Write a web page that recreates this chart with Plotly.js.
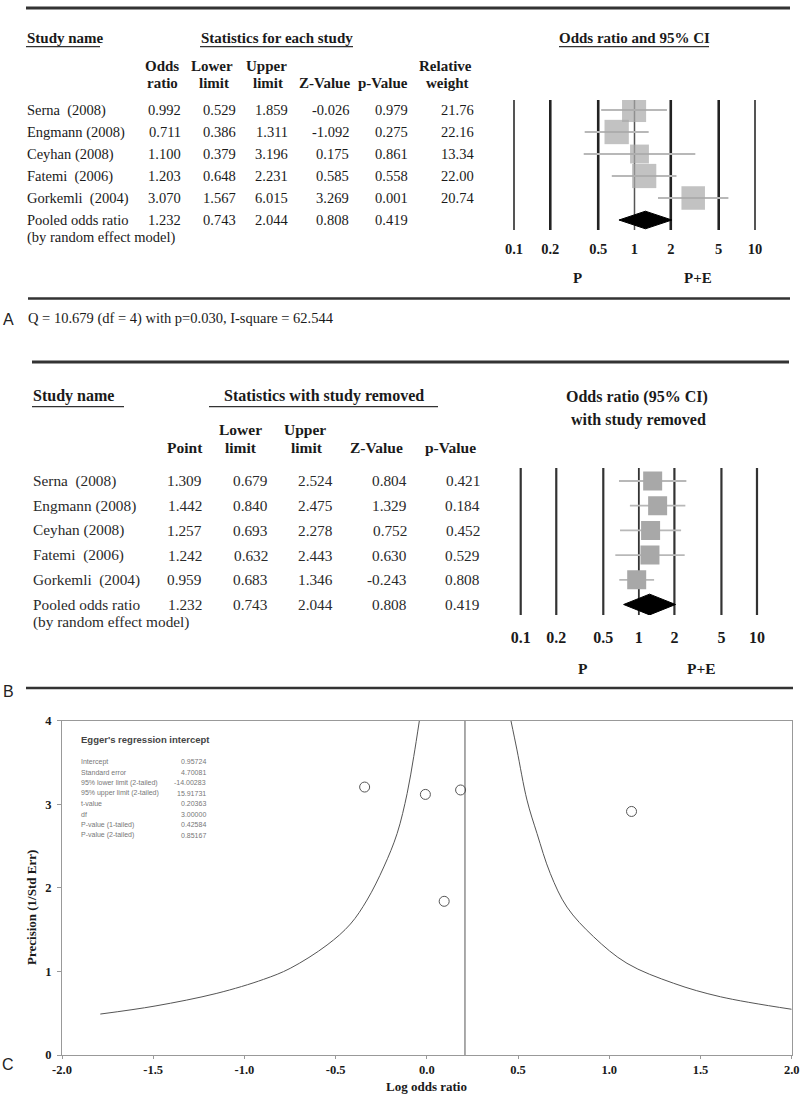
<!DOCTYPE html>
<html>
<head>
<meta charset="utf-8">
<script src="https://cdn.plot.ly/plotly-3.0.1.min.js"></script>
<style>html,body{margin:0;padding:0;background:#fff;}#chart{width:800px;height:1096px;}</style>
</head>
<body>
<div id="chart"></div>
<script>
// ---------- DATA ----------
const studyNames = ['Serna\u00a0\u00a0(2008)', 'Engmann (2008)', 'Ceyhan (2008)', 'Fatemi\u00a0\u00a0(2006)', 'Gorkemli\u00a0\u00a0(2004)'];
const pooledLabel1 = 'Pooled odds ratio';
const pooledLabel2 = '(by random effect model)';

// Panel A: statistics for each study
const orA    = [0.992, 0.711, 1.100, 1.203, 3.070];
const lowA   = [0.529, 0.386, 0.379, 0.648, 1.567];
const upA    = [1.859, 1.311, 3.196, 2.231, 6.015];
const zA     = [-0.026, -1.092, 0.175, 0.585, 3.269];
const pA     = [0.979, 0.275, 0.861, 0.558, 0.001];
const weightA = [21.76, 22.16, 13.34, 22.00, 20.74];
const pooledA = {or: 1.232, low: 0.743, up: 2.044, z: 0.808, p: 0.419};
const heterogeneityText = 'Q = 10.679 (df = 4) with p=0.030, I-square = 62.544';

// Panel B: statistics with study removed
const ptB  = [1.309, 1.442, 1.257, 1.242, 0.959];
const lowB = [0.679, 0.840, 0.693, 0.632, 0.683];
const upB  = [2.524, 2.475, 2.278, 2.443, 1.346];
const zB   = [0.804, 1.329, 0.752, 0.630, -0.243];
const pB   = [0.421, 0.184, 0.452, 0.529, 0.808];
const pooledB = {or: 1.232, low: 0.743, up: 2.044, z: 0.808, p: 0.419};

// Forest axis ticks
const forestTicks = [0.1, 0.2, 0.5, 1, 2, 5, 10];
const forestTickText = ['0.1', '0.2', '0.5', '1', '2', '5', '10'];

// Panel C: funnel plot
const studyLogOR = [-0.008, -0.341, 0.095, 0.185, 1.122];
const studyPrecision = [3.118, 3.206, 1.839, 3.171, 2.914];
const pooledLogOR = 0.209;
const funnelLeftX  = [-1.79, -1.49, -1.151, -0.895, -0.749, -0.547, -0.419, -0.328, -0.236, -0.163, -0.108, -0.072, -0.041];
const funnelLeftY  = [0.49, 0.586, 0.738, 0.905, 1.037, 1.316, 1.567, 1.854, 2.25, 2.65, 3.13, 3.57, 4.0];
const funnelRightX = [0.461, 0.494, 0.549, 0.604, 0.677, 0.768, 0.914, 1.097, 1.353, 1.609, 2.0];
const funnelRightY = [4.0, 3.65, 3.05, 2.65, 2.17, 1.77, 1.415, 1.097, 0.858, 0.697, 0.547];
const funnelXTicks = [-2.0, -1.5, -1.0, -0.5, 0.0, 0.5, 1.0, 1.5, 2.0];
const funnelXTickText = ['-2.0', '-1.5', '-1.0', '-0.5', '0.0', '0.5', '1.0', '1.5', '2.0'];
const funnelYTicks = [0, 1, 2, 3, 4];

const eggerLabels = ['Intercept', 'Standard error', '95% lower limit (2-tailed)', '95% upper limit (2-tailed)', 't-value', 'df', 'P-value (1-tailed)', 'P-value (2-tailed)'];
const eggerValues = ['0.95724', '4.70081', '-14.00283', '15.91731', '0.20363', '3.00000', '0.42584', '0.85167'];

// ---------- HELPERS ----------
const W = 800, H = 1096;
const PX = v => v / W, PY = v => 1 - v / H;
const SERIF = 'Liberation Serif, Times New Roman, serif';
const SANS = 'Liberation Sans, Arial, sans-serif';
const ann = [];
function T(text, x, y, o) {
  o = o || {};
  ann.push({
    xref: 'paper', yref: 'paper', x: PX(x), y: PY(y), text: text, showarrow: false,
    xanchor: o.anchor || 'left', yanchor: 'middle', borderpad: 0,
    font: {family: o.family || SERIF, size: o.size || 14.5, color: o.color || '#1a1a1a'},
    textangle: o.angle || 0
  });
}
const shapes = [];
function rule(x0, x1, y, w, c) {
  shapes.push({type: 'line', xref: 'paper', yref: 'paper', x0: PX(x0), x1: PX(x1), y0: PY(y), y1: PY(y),
    line: {color: c || '#333', width: w || 2.5}});
}
const rowIdx = n => Array.from({length: n}, (_, i) => i);
const f3 = v => v.toFixed(3);

// ---------- PANEL A TABLE ----------
const HA = 15;
rule(26, 790, 8, 2.8);
T('<b>Study name</b>', 26, 38, {size: HA});
rule(26, 100, 46.7, 1.3);
T('<b>Statistics for each study</b>', 277, 38, {anchor: 'center', size: HA});
rule(200, 353, 46.7, 1.3);
T('<b>Odds ratio and 95% CI</b>', 634, 38, {anchor: 'center', size: HA});
rule(559, 709, 46.7, 1.3);
T('<b>Odds</b>', 162, 66, {anchor: 'center', size: HA});
T('<b>ratio</b>', 162, 83, {anchor: 'center', size: HA});
T('<b>Lower</b>', 212, 66, {anchor: 'center', size: HA});
T('<b>limit</b>', 214, 83, {anchor: 'center', size: HA});
T('<b>Upper</b>', 266, 66, {anchor: 'center', size: HA});
T('<b>limit</b>', 268, 83, {anchor: 'center', size: HA});
T('<b>Z-Value</b>', 324, 83, {anchor: 'center', size: HA});
T('<b>p-Value</b>', 383, 83, {anchor: 'center', size: HA});
T('<b>Relative</b>', 445, 66, {anchor: 'center', size: HA});
T('<b>weight</b>', 447, 83, {anchor: 'center', size: HA});
const rowYA = i => 110 + 22 * i;
studyNames.forEach((n, i) => {
  const y = rowYA(i);
  T(n, 26, y);
  T(f3(orA[i]), 182, y, {anchor: 'right'});
  T(f3(lowA[i]), 237, y, {anchor: 'right'});
  T(f3(upA[i]), 289, y, {anchor: 'right'});
  T(f3(zA[i]), 350, y, {anchor: 'right'});
  T(f3(pA[i]), 409, y, {anchor: 'right'});
  T(weightA[i].toFixed(2), 475, y, {anchor: 'right'});
});
T(pooledLabel1, 26, rowYA(5));
T(pooledLabel2, 26, 237);
T(f3(pooledA.or), 182, rowYA(5), {anchor: 'right'});
T(f3(pooledA.low), 237, rowYA(5), {anchor: 'right'});
T(f3(pooledA.up), 289, rowYA(5), {anchor: 'right'});
T(f3(pooledA.z), 350, rowYA(5), {anchor: 'right'});
T(f3(pooledA.p), 409, rowYA(5), {anchor: 'right'});
T('<b>P</b>', 577, 278, {anchor: 'center', size: 15});
T('<b>P+E</b>', 698, 278, {anchor: 'center', size: 15});
rule(28, 790, 298.5, 2.5);
T('A', 8, 319, {family: SANS, size: 16, anchor: 'center', color: '#222'});
T(heterogeneityText, 27, 318, {size: 14.5});

// ---------- PANEL B TABLE ----------
const HB = 16, CB = '#2a2a2a', SB = 15.3;
rule(32, 789, 362, 2.8);
T('<b>Study name</b>', 32, 396, {size: HB});
rule(32, 124, 406.7, 1.3);
T('<b>Statistics with study removed</b>', 324, 396, {anchor: 'center', size: HB});
rule(209, 438, 406.7, 1.3);
T('<b>Odds ratio (95% CI)</b>', 637, 397, {anchor: 'center', size: HB});
T('<b>with study removed</b>', 638, 420, {anchor: 'center', size: HB});
T('<b>Lower</b>', 240, 429, {anchor: 'center', size: 15.5});
T('<b>limit</b>', 241, 448, {anchor: 'center', size: 15.5});
T('<b>Upper</b>', 305, 429, {anchor: 'center', size: 15.5});
T('<b>limit</b>', 307, 448, {anchor: 'center', size: 15.5});
T('<b>Point</b>', 185, 448, {anchor: 'center', size: 15.5});
T('<b>Z-Value</b>', 376, 448, {anchor: 'center', size: 15.5});
T('<b>p-Value</b>', 450, 448, {anchor: 'center', size: 15.5});
const rowYB = i => 481 + 24.7 * i;
studyNames.forEach((n, i) => {
  const y = rowYB(i);
  T(n, 32, y, {color: CB, size: SB});
  T(f3(ptB[i]), 203, y, {anchor: 'right', color: CB, size: SB});
  T(f3(lowB[i]), 269, y, {anchor: 'right', color: CB, size: SB});
  T(f3(upB[i]), 334, y, {anchor: 'right', color: CB, size: SB});
  T(f3(zB[i]), 408, y, {anchor: 'right', color: CB, size: SB});
  T(f3(pB[i]), 481, y, {anchor: 'right', color: CB, size: SB});
});
T(pooledLabel1, 32, rowYB(5), {color: CB, size: SB});
T(pooledLabel2, 32, 622, {color: CB, size: SB});
T(f3(pooledB.or), 203, rowYB(5), {anchor: 'right', color: CB, size: SB});
T(f3(pooledB.low), 269, rowYB(5), {anchor: 'right', color: CB, size: SB});
T(f3(pooledB.up), 334, rowYB(5), {anchor: 'right', color: CB, size: SB});
T(f3(pooledB.z), 408, rowYB(5), {anchor: 'right', color: CB, size: SB});
T(f3(pooledB.p), 481, rowYB(5), {anchor: 'right', color: CB, size: SB});
T('<b>P</b>', 583, 668, {anchor: 'center', size: 15.5});
T('<b>P+E</b>', 701, 668, {anchor: 'center', size: 15.5});
rule(26, 793, 688, 2.5);
T('B', 8, 691, {family: SANS, size: 16, anchor: 'center', color: '#222'});

// ---------- PANEL C TEXT ----------
T('C', 8, 1064, {family: SANS, size: 16, anchor: 'center', color: '#222'});
T('<b>Log odds ratio</b>', 427, 1086, {anchor: 'center', size: 13});
T('<b>Precision (1/Std Err)</b>', 31, 908, {anchor: 'center', size: 13, angle: -90});
T('<b>Egger\'s regression intercept</b>', 80, 739, {family: SANS, size: 9.5, color: '#444'});
eggerLabels.forEach((l, i) => {
  const y = 761.5 + 10.5 * i;
  T(l, 80, y, {family: SANS, size: 7, color: '#777'});
  T(eggerValues[i], 207, y, {family: SANS, size: 7, color: '#777', anchor: 'right'});
});

// ---------- FOREST LINES ----------
function forestLines(xref, styleFn) {
  forestTicks.forEach((v, i) => {
    const s = styleFn(i);
    shapes.push({type: 'line', xref: xref, yref: (xref === 'x' ? 'y' : 'y2') + ' domain', x0: v, x1: v, y0: 0, y1: 1,
      layer: 'below', line: {color: s.c, width: s.w}});
  });
}
forestLines('x', i => (i === 3 ? {c: '#555', w: 1.5} : (i === 0 || i === 6) ? {c: '#555', w: 2} : {c: '#222', w: 2.6}));
forestLines('x2', i => (i === 3 ? {c: '#333', w: 1.8} : {c: '#333', w: 2.2}));

// ---------- TRACES ----------
const traces = [];
const minus = (a, b) => a.map((v, i) => v - b[i]);
traces.push({
  type: 'scatter', mode: 'markers', xaxis: 'x', yaxis: 'y', x: orA, y: rowIdx(orA.length),
  marker: {symbol: 'square', size: weightA, sizemode: 'area', sizeref: 0.075, color: '#a8a8a8', line: {width: 0}},
  error_x: {type: 'data', symmetric: false, array: minus(upA, orA), arrayminus: minus(orA, lowA), color: '#b8b8b8', thickness: 1.8, width: 0},
  hoverinfo: 'skip'
});
const dA = 0.4, rA = 5;
traces.push({
  type: 'scatter', mode: 'lines', xaxis: 'x', yaxis: 'y', fill: 'toself', fillcolor: '#000',
  x: [pooledA.low, pooledA.or, pooledA.up, pooledA.or, pooledA.low],
  y: [rA, rA - dA, rA, rA + dA, rA], line: {color: '#000', width: 1}, hoverinfo: 'skip'
});
traces.push({
  type: 'scatter', mode: 'markers', xaxis: 'x2', yaxis: 'y2', x: ptB, y: rowIdx(ptB.length),
  marker: {symbol: 'square', size: 19, color: '#a8a8a8', line: {width: 0}},
  error_x: {type: 'data', symmetric: false, array: minus(upB, ptB), arrayminus: minus(ptB, lowB), color: '#b8b8b8', thickness: 1.8, width: 0},
  hoverinfo: 'skip'
});
const dB = 0.42, rB = 5;
traces.push({
  type: 'scatter', mode: 'lines', xaxis: 'x2', yaxis: 'y2', fill: 'toself', fillcolor: '#000',
  x: [pooledB.low, pooledB.or, pooledB.up, pooledB.or, pooledB.low],
  y: [rB, rB - dB, rB, rB + dB, rB], line: {color: '#000', width: 1}, hoverinfo: 'skip'
});
traces.push({type: 'scatter', mode: 'lines', xaxis: 'x3', yaxis: 'y3', x: funnelLeftX, y: funnelLeftY,
  line: {color: '#555', width: 1, shape: 'spline', smoothing: 1}, hoverinfo: 'skip'});
traces.push({type: 'scatter', mode: 'lines', xaxis: 'x3', yaxis: 'y3', x: funnelRightX, y: funnelRightY,
  line: {color: '#555', width: 1, shape: 'spline', smoothing: 1}, hoverinfo: 'skip'});
traces.push({type: 'scatter', mode: 'lines', xaxis: 'x3', yaxis: 'y3', x: [pooledLogOR, pooledLogOR], y: [funnelYTicks[0], funnelYTicks[funnelYTicks.length - 1]],
  line: {color: '#555', width: 1}, hoverinfo: 'skip'});
traces.push({type: 'scatter', mode: 'markers', xaxis: 'x3', yaxis: 'y3', x: studyLogOR, y: studyPrecision,
  marker: {symbol: 'circle-open', size: 10, color: '#555', line: {width: 1, color: '#555'}}, hoverinfo: 'skip'});

// ---------- LAYOUT ----------
const layout = {
  width: W, height: H, margin: {l: 0, r: 0, t: 0, b: 0},
  paper_bgcolor: '#fff', plot_bgcolor: 'rgba(0,0,0,0)', showlegend: false,
  xaxis: {type: 'log', range: [-1.05, 1.05], domain: [PX(507.975), PX(761.025)], anchor: 'y',
    tickvals: forestTicks, ticktext: forestTickText.map(t => '<b>' + t + '</b>'), ticks: '', showgrid: false, zeroline: false,
    showline: false, tickfont: {family: SERIF, size: 14.5, color: '#1a1a1a'}, ticklabelstandoff: 8, fixedrange: true},
  yaxis: {range: [5.4545, -0.4545], domain: [PY(230), PY(100)], anchor: 'x', visible: false, fixedrange: true},
  xaxis2: {type: 'log', range: [-1.05, 1.05], domain: [PX(514.8), PX(762.9)], anchor: 'y2',
    tickvals: forestTicks, ticktext: forestTickText.map(t => '<b>' + t + '</b>'), ticks: '', showgrid: false, zeroline: false,
    showline: false, tickfont: {family: SERIF, size: 16, color: '#1a1a1a'}, ticklabelstandoff: 11, fixedrange: true},
  yaxis2: {range: [5.425, -0.526], domain: [PY(615), PY(468)], anchor: 'x2', visible: false, fixedrange: true},
  xaxis3: {range: [-2, 2], domain: [PX(62), PX(791.7)], anchor: 'y3', tickvals: funnelXTicks,
    ticktext: funnelXTickText.map(t => '<b>' + t + '</b>'), ticks: 'outside', ticklen: 3, tickcolor: '#999',
    showgrid: false, zeroline: false, showline: true, linecolor: '#999', linewidth: 1, mirror: true,
    tickfont: {family: SERIF, size: 12.5, color: '#1a1a1a'}, fixedrange: true},
  yaxis3: {range: [0, 4], domain: [PY(1055), PY(720.7)], anchor: 'x3', tickvals: funnelYTicks,
    ticktext: funnelYTicks.map(t => '<b>' + t + '</b>'), ticks: 'outside', ticklen: 4, tickcolor: '#999',
    showgrid: false, zeroline: false, showline: true, linecolor: '#999', linewidth: 1, mirror: true,
    tickfont: {family: SERIF, size: 12.5, color: '#1a1a1a'}, ticklabelstandoff: 3, fixedrange: true},
  annotations: ann, shapes: shapes
};
Plotly.newPlot('chart', traces, layout, {staticPlot: true, displayModeBar: false});
</script>
</body>
</html>
